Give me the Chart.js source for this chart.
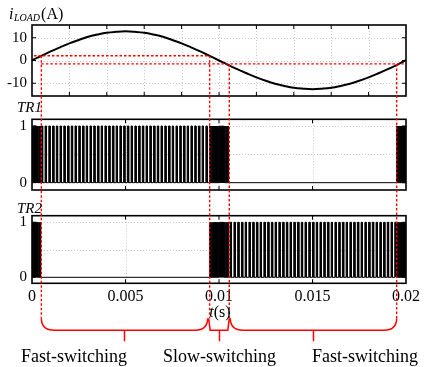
<!DOCTYPE html>
<html><head><meta charset="utf-8">
<script src="https://cdn.jsdelivr.net/npm/chart.js@4.4.0/dist/chart.umd.min.js"></script>
<style>html,body{margin:0;padding:0;background:#fff;}</style>
</head><body>
<canvas id="c" width="424" height="367"></canvas>
<script>
// ---------------- data ----------------
const timeTicks = [0, 0.005, 0.01, 0.015, 0.02];
const timeTickLabels = ['0', '0.005', '0.01', '0.015', '0.02'];
const currentGridTimes = [0.002, 0.004, 0.006, 0.008, 0.01, 0.012, 0.014, 0.016, 0.018];
const switchGridTimes = [0.005, 0.01, 0.015];
const currentTicks = [-10, 0, 10];
const switchTicks = [0, 1];
const switchGridLevels = [0.5, 1];

const currentTime = [0,0.0005,0.001,0.0015,0.002,0.0025,0.003,0.0035,0.004,0.0045,0.005,0.0055,0.006,0.0065,0.007,0.0075,0.008,0.0085,0.009,0.0095,0.01,
  0.0105,0.011,0.0115,0.012,0.0125,0.013,0.0135,0.014,0.0145,0.015,0.0155,0.016,0.0165,0.017,0.0175,0.018,0.0185,0.019,0.0195,0.02];
const currentValues = [0.2,2.0,4.0,5.8,7.5,9.0,10.4,11.4,12.2,12.6,12.8,12.6,12.2,11.4,10.4,9.0,7.5,5.8,4.0,2.0,0.0,
  -2.0,-3.9,-5.7,-7.4,-8.9,-10.2,-11.2,-12.0,-12.4,-12.6,-12.4,-12.0,-11.2,-10.2,-8.9,-7.4,-5.7,-3.9,-2.0,0.2];

const bandUpper = 2.1;
const bandLower = -1.5;
const boundaryTimes = [0.0005, 0.0095, 0.01055, 0.0195];
const regionLabels = ['Fast-switching', 'Slow-switching', 'Fast-switching'];
const regionLabelTimes = [0.00225, 0.01003, 0.01781];

const tr1FastStarts = [0.0005,0.0007,0.0009,0.0011,0.0013,0.0015,0.0017,0.0019,0.0021,0.0023,0.0025,0.0027,0.0029,0.0031,0.0033,0.0035,0.0037,0.0039,0.0041,0.0043,0.0045,0.0047,0.0049,0.0051,0.0053,0.0055,0.0057,0.0059,0.0061,0.0063,0.0065,0.0067,0.0069,0.0071,0.0073,0.0075,0.0077,0.0079,0.0081,0.0083,0.0085,0.0087,0.0089,0.0091,0.0093];
const tr2FastStarts = [0.0106,0.0108,0.011,0.0112,0.0114,0.0116,0.0118,0.012,0.0122,0.0124,0.0126,0.0128,0.013,0.0132,0.0134,0.0136,0.0138,0.014,0.0142,0.0144,0.0146,0.0148,0.015,0.0152,0.0154,0.0156,0.0158,0.016,0.0162,0.0164,0.0166,0.0168,0.017,0.0172,0.0174,0.0176,0.0178,0.018,0.0182,0.0184,0.0186,0.0188,0.019,0.0192,0.0194];
const bandDenseStarts = [0,0.00005,0.0001,0.00015,0.0002,0.00025,0.0003,0.00035,0.0004,0.00045,
  0.0095,0.00955,0.0096,0.00965,0.0097,0.00975,0.0098,0.00985,0.0099,0.00995,0.01,0.01005,0.0101,0.01015,0.0102,0.01025,0.0103,0.01035,0.0104,0.01045,0.0105,
  0.0195,0.01955,0.0196,0.01965,0.0197,0.01975,0.0198,0.01985,0.0199,0.01995];
const fastOnTime = 0.00007;
const denseOnTime = 0.00002;

// ---------------- build ----------------
function pulsePoints(groups) {
  const all = [];
  groups.forEach(g => g.starts.forEach(s => all.push([s, s + g.on])));
  all.sort((a, b) => a[0] - b[0]);
  const pts = [{x: 0, y: 0}];
  all.forEach(([a, b]) => { pts.push({x: a, y: 0}, {x: a, y: 1}, {x: b, y: 1}, {x: b, y: 0}); });
  pts.push({x: 0.02, y: 0});
  return pts;
}
const currentData = currentTime.map((t, i) => ({x: t, y: currentValues[i]}));
const tr1Data = pulsePoints([{starts: tr1FastStarts, on: fastOnTime}, {starts: bandDenseStarts, on: denseOnTime}]);
const tr2Data = pulsePoints([{starts: tr2FastStarts, on: fastOnTime}, {starts: bandDenseStarts, on: denseOnTime}]);

const SERIF = '"Liberation Serif", "Times New Roman", serif';
const fixTicks = arr => (s => { s.ticks = arr.map(v => ({value: v})); });
const yAxis = (min, max, weight, ticks) => ({
  type: 'linear', position: 'left', stack: 'panels', stackWeight: weight, min, max,
  grid: {display: false, drawTicks: false}, border: {display: false},
  afterBuildTicks: fixTicks(ticks),
  ticks: {font: {family: SERIF, size: 15}, color: '#000', padding: 5, autoSkip: false},
  afterFit: s => { s.width = 32; }
});
const gapAxis = weight => ({
  type: 'linear', position: 'left', stack: 'panels', stackWeight: weight,
  grid: {display: false, drawTicks: false}, border: {display: false}, ticks: {display: false},
  afterFit: s => { s.width = 32; }
});

const decor = {
  id: 'decor',
  beforeDatasetsDraw(chart) {
    const ctx = chart.ctx, x = chart.scales.x, L = chart.chartArea.left, R = chart.chartArea.right;
    ctx.save();
    ctx.strokeStyle = '#c8c8c8'; ctx.lineWidth = 1; ctx.setLineDash([1, 2]);
    const panels = [
      [chart.scales.yI, currentGridTimes, currentTicks],
      [chart.scales.yT1, switchGridTimes, switchGridLevels],
      [chart.scales.yT2, switchGridTimes, switchGridLevels]];
    panels.forEach(([s, xs, ys]) => {
      ctx.beginPath();
      xs.forEach(t => { const px = Math.round(x.getPixelForValue(t)) + 0.5; ctx.moveTo(px, s.top); ctx.lineTo(px, s.bottom); });
      ys.forEach(v => { const py = Math.round(s.getPixelForValue(v)) + 0.5; ctx.moveTo(L, py); ctx.lineTo(R, py); });
      ctx.stroke();
    });
    ctx.restore();
  },
  afterDatasetsDraw(chart) {
    const ctx = chart.ctx, x = chart.scales.x, L = chart.chartArea.left, R = chart.chartArea.right;
    const yI = chart.scales.yI, yT1 = chart.scales.yT1, yT2 = chart.scales.yT2;
    ctx.save();
    const panels = [
      [yI, currentGridTimes, currentTicks],
      [yT1, switchGridTimes, [0, 0.5, 1]],
      [yT2, switchGridTimes, [0, 0.5, 1]]];
    ctx.strokeStyle = '#000';
    panels.forEach(([s, xs, ys]) => {
      ctx.lineWidth = 1;
      ctx.beginPath();
      xs.forEach(t => { const px = x.getPixelForValue(t); ctx.moveTo(px, s.top); ctx.lineTo(px, s.top + 4); ctx.moveTo(px, s.bottom); ctx.lineTo(px, s.bottom - 4); });
      ys.forEach(v => { const py = s.getPixelForValue(v); ctx.moveTo(L, py); ctx.lineTo(L + 4, py); ctx.moveTo(R, py); ctx.lineTo(R - 4, py); });
      ctx.stroke();
      ctx.lineWidth = 1.6;
      ctx.strokeRect(L, s.top, R - L, s.bottom - s.top);
    });
    // red hysteresis lines
    const braceTop = chart.chartArea.bottom + 35;
    ctx.strokeStyle = '#ff0000'; ctx.lineWidth = 1.4; ctx.setLineDash([2.5, 2]);
    const yU = yI.getPixelForValue(bandUpper), yLo = yI.getPixelForValue(bandLower);
    const bx = boundaryTimes.map(t => x.getPixelForValue(t));
    ctx.beginPath();
    ctx.moveTo(L + 2, yU); ctx.lineTo(bx[1], yU);
    ctx.moveTo(bx[0], yLo); ctx.lineTo(R, yLo);
    ctx.moveTo(bx[0], yU); ctx.lineTo(bx[0], braceTop);
    ctx.moveTo(bx[1], yU); ctx.lineTo(bx[1], braceTop);
    ctx.moveTo(bx[2], yLo); ctx.lineTo(bx[2], braceTop);
    ctx.moveTo(bx[3], yLo); ctx.lineTo(bx[3], braceTop);
    ctx.stroke();
    // braces
    ctx.setLineDash([]); ctx.lineWidth = 1.5;
    const yb = braceTop + 12, ys = yb + 11;
    const curly = (x1, x2) => {
      ctx.moveTo(x1, braceTop); ctx.quadraticCurveTo(x1, yb, x1 + 13, yb);
      ctx.lineTo(x2 - 13, yb); ctx.quadraticCurveTo(x2, yb, x2, braceTop);
      const m = (x1 + x2) / 2; ctx.moveTo(m, yb); ctx.lineTo(m, ys);
    };
    ctx.beginPath();
    curly(bx[0], bx[1] - 2);
    ctx.moveTo(bx[1] - 1, braceTop); ctx.lineTo(bx[1] + 0.5, yb); ctx.lineTo(bx[2] - 1.5, yb); ctx.lineTo(bx[2], braceTop);
    ctx.moveTo((bx[1] + bx[2]) / 2, yb); ctx.lineTo((bx[1] + bx[2]) / 2, ys);
    curly(bx[2] + 1, bx[3]);
    ctx.stroke();
    // texts
    ctx.fillStyle = '#000'; ctx.textBaseline = 'alphabetic';
    ctx.font = '18px ' + SERIF;
    ctx.textAlign = 'center';
    regionLabels.forEach((t, i) => ctx.fillText(t, x.getPixelForValue(regionLabelTimes[i]), 362));
    ctx.textAlign = 'left';
    ctx.font = 'italic 16px ' + SERIF;
    let px = 9;
    ctx.fillText('i', px, 18.5); px += ctx.measureText('i').width + 0.5;
    ctx.font = 'italic 10px ' + SERIF;
    ctx.fillText('LOAD', px, 21); px += ctx.measureText('LOAD').width + 1;
    ctx.font = '16px ' + SERIF;
    ctx.fillText('(A)', px, 18.5);
    ctx.font = 'italic 15px ' + SERIF;
    ctx.fillText('TR1', 17, yT1.top - 7);
    ctx.fillText('TR2', 17, yT2.top - 3);
    ctx.font = 'italic 16px ' + SERIF;
    const wt = ctx.measureText('t').width;
    ctx.font = '16px ' + SERIF;
    const ws = ctx.measureText('(s)').width;
    const cx = x.getPixelForValue(0.01) + 1, x0 = cx - (wt + ws) / 2;
    ctx.font = 'italic 16px ' + SERIF; ctx.fillText('t', x0, 317);
    ctx.font = '16px ' + SERIF; ctx.fillText('(s)', x0 + wt, 317);
    ctx.restore();
  }
};

new Chart(document.getElementById('c'), {
  type: 'line',
  data: {
    datasets: [
      {data: currentData, yAxisID: 'yI', borderColor: '#000', borderWidth: 2, pointRadius: 0, tension: 0.4, fill: false},
      {data: tr1Data, yAxisID: 'yT1', borderColor: '#000', backgroundColor: '#000', borderWidth: 1, pointRadius: 0, tension: 0, fill: 'origin'},
      {data: tr2Data, yAxisID: 'yT2', borderColor: '#000', backgroundColor: '#000', borderWidth: 1, pointRadius: 0, tension: 0, fill: 'origin'}
    ]
  },
  options: {
    responsive: false, animation: false, devicePixelRatio: 1,
    layout: {padding: {left: 0, right: 16, top: 25, bottom: 45.7}},
    plugins: {legend: {display: false}, tooltip: {enabled: false}},
    scales: {
      x: {type: 'linear', position: 'bottom', min: 0, max: 0.02,
        grid: {display: false, drawTicks: false}, border: {display: false},
        afterBuildTicks: fixTicks(timeTicks),
        ticks: {font: {family: SERIF, size: 16}, color: '#000', padding: 4, maxRotation: 0, autoSkip: false,
          callback: (v, i) => timeTickLabels[i]},
        afterFit: s => { s.height = 38; }},
      yT2: yAxis(-0.109, 1.12, 67.6, switchTicks),
      gapB: gapAxis(25.7),
      yT1: yAxis(-0.129, 1.118, 70.7, switchTicks),
      gapA: gapAxis(23.3),
      yI: yAxis(-15.6, 15.6, 71, currentTicks)
    }
  },
  plugins: [decor]
});
</script>
</body></html>
